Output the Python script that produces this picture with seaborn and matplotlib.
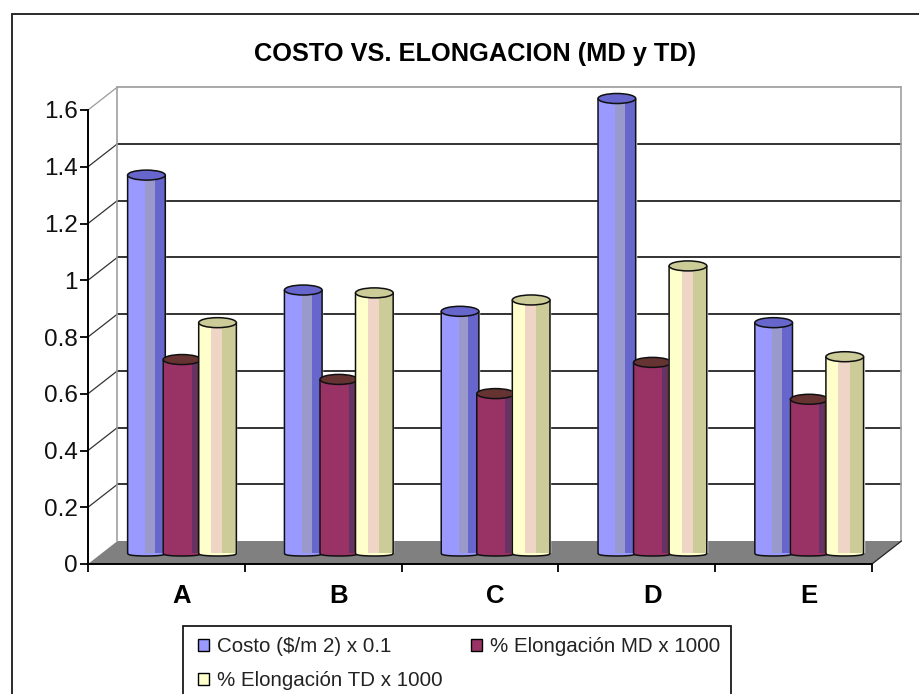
import numpy as np
import pandas as pd
import seaborn as sns
import matplotlib
matplotlib.use("Agg")
import matplotlib.pyplot as plt
from matplotlib.patches import Ellipse, PathPatch, Polygon, Rectangle
from matplotlib.path import Path

sns.set_theme(style="white")
plt.rcParams['font.family'] = ['Liberation Sans', 'DejaVu Sans']

categories = ["A", "B", "C", "D", "E"]
costo = [1.33, 0.925, 0.85, 1.60, 0.81]
elong_md = [0.68, 0.61, 0.56, 0.67, 0.54]
elong_td = [0.81, 0.915, 0.89, 1.01, 0.69]
series_names = ["Costo ($/m 2) x 0.1", "% Elongación MD x 1000", "% Elongación TD x 1000"]
y_ticks = [0, 0.2, 0.4, 0.6, 0.8, 1, 1.2, 1.4, 1.6]
y_tick_labels = ["0", "0.2", "0.4", "0.6", "0.8", "1", "1.2", "1.4", "1.6"]
title = "COSTO VS. ELONGACION (MD y TD)"

# light, middle, dark bands and the top cap of each cylinder
shades = {
    series_names[0]: ("#9999FF", "#9999CC", "#6666CC", "#6666CC"),
    series_names[1]: ("#993366", "#663366", "#663333", "#663333"),
    series_names[2]: ("#FFFFCC", "#EED5C5", "#CCCC99", "#CCCC99"),
}
band_edges = {
    series_names[0]: [0, 0.46, 0.72, 1.0],
    series_names[1]: [0, 0.76, 0.9, 1.0],
    series_names[2]: [0, 0.33, 0.63, 1.0],
}

W, H = 920, 694
fig = plt.figure(figsize=(W / 100, H / 100), dpi=100, facecolor="white")


def px_axes(x0, y0, x1, y1, **kw):
    return fig.add_axes([x0 / W, 1 - y1 / H, (x1 - x0) / W, (y1 - y0) / H], **kw)


# outer chart frame (its right and bottom edges lie outside the picture)
fig.add_artist(Rectangle((12 / W, -0.02), 1.02, 1.02 - 14 / H, transform=fig.transFigure,
                         fill=False, ec="#2a2a2a", lw=1.4))

# front plane: the real axes
ax = px_axes(88, 110, 872, 564)
ax.set_facecolor("none")
ax.set_xlim(-0.5, 4.5)
ax.set_ylim(0, 1.6)
for s in ("top", "right"):
    ax.spines[s].set_visible(False)
for s in ("left", "bottom"):
    ax.spines[s].set_color("black")
    ax.spines[s].set_linewidth(1.4)
    ax.spines[s].set_zorder(6)
ax.set_yticks(y_ticks, y_tick_labels, fontsize=17.5, color="#111111")
ax.set_xticks(np.arange(-0.5, 5), [""] * 6)
ax.tick_params(axis="y", left=True, length=6, width=1.3, color="black", pad=1.5)
ax.tick_params(axis="x", which="major", bottom=True, length=6, width=1.3, color="black", pad=0)

# depth of the box in data units
dx = 29.5 / (784 / 5)
dy = 23 / (454 / 1.6)
ax.add_patch(Polygon([(-0.5, 0), (-0.5 + dx, dy), (4.5 + dx, dy), (4.5, 0)], closed=True,
                     fc="#808080", ec="none", clip_on=False, zorder=1))
for t in y_ticks:
    if t == 0:
        continue
    wall_col = "#9a9a9a" if t == y_ticks[-1] else "#111111"
    ax.plot([-0.5 + dx, 4.5 + dx], [t + dy, t + dy], color=wall_col, lw=1.2, clip_on=False, zorder=1.5)
    ax.plot([-0.5, -0.5 + dx], [t, t + dy], color=wall_col if t == y_ticks[-1] else "#333333", lw=0.9,
            clip_on=False, zorder=1.5)
ax.plot([-0.5 + dx] * 2, [dy, 1.6 + dy], color="#a0a0a0", lw=1.2, clip_on=False, zorder=1.6)
ax.plot([4.5 + dx] * 2, [dy, 1.6 + dy], color="#a0a0a0", lw=1.2, clip_on=False, zorder=1.6)
ax.plot([4.5, 4.5 + dx], [0, dy], color="#222222", lw=0.9, clip_on=False, zorder=1.6)

ax.text(0.494, 1.123, title, transform=ax.transAxes, ha="center", va="center",
        fontsize=18.3, fontweight="bold", color="black")

# bar plane, half way into the box
bar_ax = px_axes(88 + 15.6, 110 - 11.5, 872 + 15.6, 564 - 11.5)
bar_ax.set_facecolor("none")
bar_ax.patch.set_visible(False)

df = pd.DataFrame({
    "cat": categories * 3,
    "val": costo + elong_md + elong_td,
    "serie": np.repeat(series_names, 5),
})
sns.barplot(data=df, x="cat", y="val", hue="serie", hue_order=series_names, order=categories,
            palette={k: v[0] for k, v in shades.items()}, width=0.68, saturation=1,
            errorbar=None, ax=bar_ax)
bar_ax.set_xlim(-0.5, 4.5)
bar_ax.set_ylim(0, 1.6)
handles, labels = bar_ax.get_legend_handles_labels()
bar_ax.get_legend().remove()
bar_ax.set_xlabel("")
bar_ax.set_ylabel("")
bar_ax.set_yticks([])
for s in bar_ax.spines.values():
    s.set_visible(False)
bar_ax.tick_params(axis="x", bottom=False, length=0, pad=22.5, labelsize=18.5, labelcolor="black")
for lab in bar_ax.get_xticklabels():
    lab.set_fontweight("bold")

cap_h = 10 / (454 / 1.6)
base_h = 7 / (454 / 1.6)
z = 3.0
for name, cont in zip(series_names, bar_ax.containers):
    light, mid, dark, top = shades[name]
    edges = band_edges[name]
    for bar in cont:
        w0 = bar.get_width()
        cx = bar.get_x() + w0 / 2
        w = w0 * 1.06
        h = bar.get_height()
        left = cx - w / 2
        bar.set_x(left)
        bar.set_width(w)
        bar.set_zorder(z)
        th = np.linspace(np.pi, 2 * np.pi, 24)
        arc = np.column_stack([cx + w / 2 * np.cos(th),
                               -base_h / 2 * np.abs(np.sin(th)) ** 0.5])
        verts = np.vstack([[left, h], arc, [left + w, h], [left, h]])
        body = PathPatch(Path(verts, closed=True), fc=light, ec="none", zorder=z + 0.1, clip_on=False)
        bar_ax.add_patch(body)
        for (a, b, c) in zip(edges[:-1], edges[1:], (light, mid, dark)):
            r = Rectangle((left + a * w, -cap_h), (b - a) * w, h + cap_h, fc=c, ec="none",
                          zorder=z + 0.2, clip_on=True)
            bar_ax.add_patch(r)
            r.set_clip_path(body)
        outline = np.vstack([[left, h], arc, [left + w, h]])
        bar_ax.add_patch(PathPatch(Path(outline), fill=False, ec="#101010", lw=1.1,
                                   zorder=z + 0.3, clip_on=False))
        bar_ax.add_patch(Ellipse((cx, h), w, cap_h, fc=top, ec="#101010", lw=1.1,
                                 zorder=z + 0.4, clip_on=False))
        z += 0.5

order = [0, 2, 1]
leg = fig.legend([handles[i] for i in order], [labels[i] for i in order], ncol=2,
                 loc="upper left", bbox_to_anchor=(183 / W, 1 - 626 / H), bbox_transform=fig.transFigure,
                 frameon=True, fancybox=False, framealpha=1, edgecolor="#1a1a1a",
                 fontsize=14.8, handlelength=0.7, handleheight=0.55, handletextpad=0.4,
                 columnspacing=1.2, labelspacing=0.72, borderpad=0.55, borderaxespad=0)
leg.get_frame().set_linewidth(1.3)
for t in leg.get_texts():
    t.set_color("#222222")
for p in leg.get_patches():
    p.set_x(p.get_x() + 3)
    p.set_width(p.get_width() - 3)
    p.set_edgecolor("black")
    p.set_linewidth(1.0)

fig.savefig("out.png", dpi=100, facecolor="white")
